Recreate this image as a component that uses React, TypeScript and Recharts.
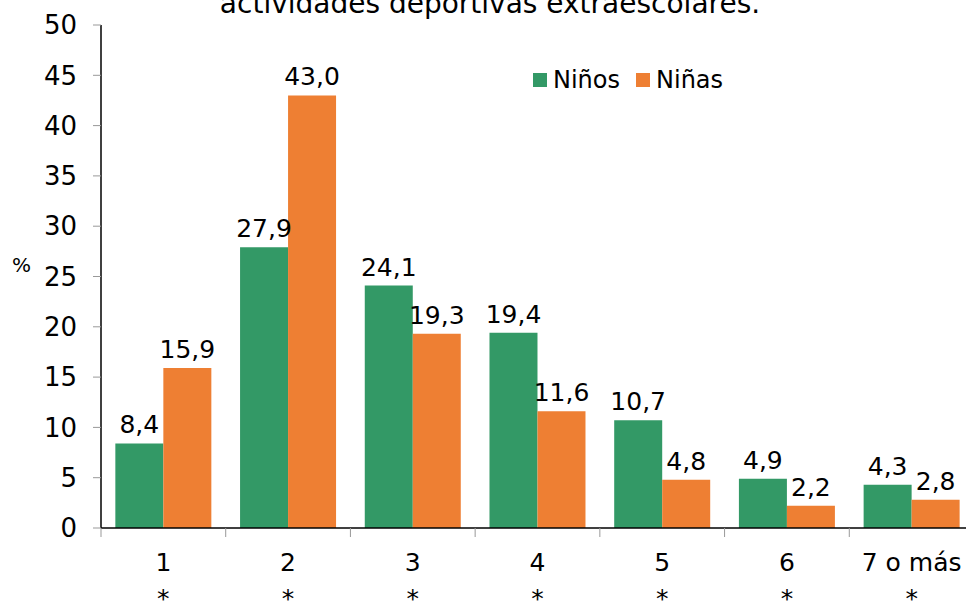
import { BarChart, Bar, XAxis, YAxis, Legend, LabelList } from "recharts";

const categories = ["1", "2", "3", "4", "5", "6", "7 o más"];
const ninos = [8.4, 27.9, 24.1, 19.4, 10.7, 4.9, 4.3];
const ninas = [15.9, 43.0, 19.3, 11.6, 4.8, 2.2, 2.8];
const significance = ["*", "*", "*", "*", "*", "*", "*"];
const yTicks = [0, 5, 10, 15, 20, 25, 30, 35, 40, 45, 50];
const seriesOrder = ["ninos", "ninas"];
const title = "actividades deportivas extraescolares.";

const data = categories.map((name, i) => ({
  name,
  ninos: ninos[i],
  ninas: ninas[i],
  sig: significance[i],
}));

const FONT = "DejaVu Sans, Verdana, sans-serif";
const GREEN = "#339966";
const ORANGE = "#EE7F33";

const CHART_W = 974;
const CHART_H = 601;
const MARGIN = { top: 25, right: 0, left: 10, bottom: 0 };
const Y_W = 91;
const STEP = (CHART_W - MARGIN.left - Y_W - MARGIN.right) / categories.length;

const fmt = (v: any) => Number(v).toFixed(1).replace(".", ",");

const XTick = (props: any) => {
  const { x, y, payload, index } = props;
  const bx = x - STEP / 2;
  return (
    <g>
      <line x1={bx} x2={bx} y1={y} y2={y + 9} stroke="#999" strokeWidth={1} />
      <text x={x} y={y + 43} textAnchor="middle" fontSize={25} fill="#000" fontFamily={FONT}>
        {payload.value}
      </text>
      <text x={x} y={y + 79} textAnchor="middle" fontSize={25} fill="#000" fontFamily={FONT}>
        {data[index] ? data[index].sig : ""}
      </text>
    </g>
  );
};

const LegendBox = (props: any) => {
  const items = [...(props.payload || [])].sort(
    (a: any, b: any) => seriesOrder.indexOf(a.dataKey) - seriesOrder.indexOf(b.dataKey)
  );
  return (
    <div style={{ display: "flex", alignItems: "center", fontFamily: FONT, fontSize: 24 }}>
      {items.map((p: any, i: number) => (
        <div key={i} style={{ display: "flex", alignItems: "center", marginRight: 16 }}>
          <span style={{ width: 14, height: 14, background: p.color, display: "inline-block", marginRight: 6 }} />
          <span style={{ color: "#000" }}>{p.value}</span>
        </div>
      ))}
    </div>
  );
};

export default function App() {
  return (
    <div
      style={{
        position: "absolute",
        left: 0,
        top: 0,
        width: 966,
        height: 601,
        overflow: "hidden",
        background: "#fff",
      }}
    >
      <svg
        width={966}
        height={40}
        style={{ position: "absolute", left: 0, top: 0, zIndex: 2, pointerEvents: "none" }}
      >
        <text x={490} y={13} textAnchor="middle" fontSize={28} fontFamily={FONT} fill="#000">
          {title}
        </text>
      </svg>
      <BarChart
        width={CHART_W}
        height={CHART_H}
        data={data}
        margin={MARGIN}
        barCategoryGap="11.5%"
        barGap={0}
      >
        <XAxis
          dataKey="name"
          interval={0}
          height={73}
          tickSize={0}
          tickMargin={0}
          tickLine={false}
          axisLine={{ stroke: "#000", strokeWidth: 1.5 }}
          tick={<XTick />}
        />
        <YAxis
          width={Y_W}
          domain={[0, 50]}
          ticks={yTicks}
          interval={0}
          tickSize={8}
          tickMargin={16}
          axisLine={{ stroke: "#000", strokeWidth: 1.5 }}
          tickLine={{ stroke: "#999" }}
          tick={{ fontSize: 26, fill: "#000", fontFamily: FONT }}
          label={{
            value: "%",
            position: "insideLeft",
            offset: 2,
            dy: -12,
            fontSize: 20,
            fill: "#000",
            fontFamily: FONT,
          }}
        />
        <Legend
          layout="horizontal"
          verticalAlign="middle"
          align="center"
          wrapperStyle={{ top: 66, left: 533, width: 300, height: 30 }}
          content={<LegendBox />}
        />
        <Bar dataKey="ninos" name="Niños" fill={GREEN} isAnimationActive={false}>
          <LabelList
            dataKey="ninos"
            position="top"
            offset={10}
            formatter={fmt}
            style={{ fontSize: 25, fill: "#000", fontFamily: FONT }}
          />
        </Bar>
        <Bar dataKey="ninas" name="Niñas" fill={ORANGE} isAnimationActive={false}>
          <LabelList
            dataKey="ninas"
            position="top"
            offset={10}
            formatter={fmt}
            style={{ fontSize: 25, fill: "#000", fontFamily: FONT }}
          />
        </Bar>
      </BarChart>
    </div>
  );
}
